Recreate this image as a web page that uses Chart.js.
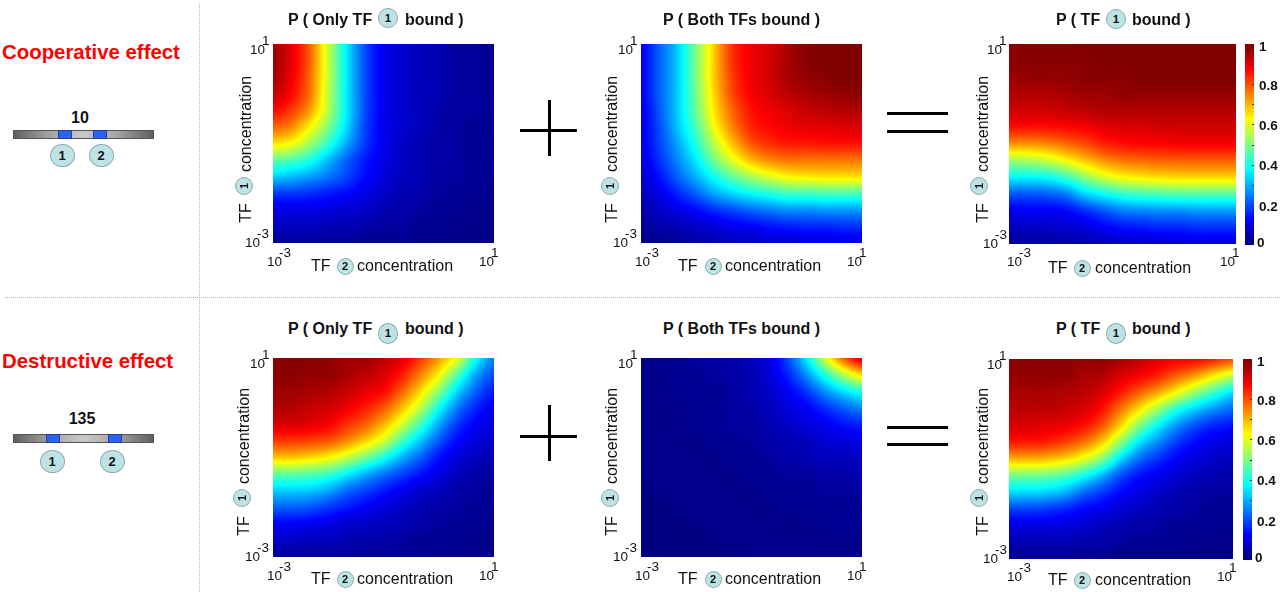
<!DOCTYPE html>
<html>
<head>
<meta charset="utf-8">
<title>TF binding probability</title>
<script src="https://cdn.jsdelivr.net/npm/chart.js@4"></script>
<style>
body { margin: 0; background: #fff; width: 1280px; height: 592px; overflow: hidden; position: relative; font-family: "Liberation Sans", Arial, sans-serif; color: #111; }
canvas { position: absolute; }
.txt { position: absolute; white-space: nowrap; transform: translateY(-50%); }
.rot { position: absolute; white-space: nowrap; transform: translate(-50%, -50%) rotate(-90deg); }
.badge { position: absolute; box-sizing: border-box; border: 1px solid #8fa9ab; border-radius: 50%; background: #bee3e6; font-weight: bold; text-align: center; display: flex; align-items: center; justify-content: center; color: #111; }
.box { position: absolute; }
</style>
</head>
<body>
<script>
// concentration nodes of every map, low to high
var concNodes = [0.001, 0.00215, 0.00464, 0.01, 0.0215, 0.0464, 0.1, 0.215, 0.464, 1, 2.15, 4.64, 10];
var concRows = concNodes.slice().reverse();
var axisEnds = [0.001, 10];
var endLabels = [['10', '-3'], ['10', '1']];

// probabilities, rows run from the highest TF1 concentration down
var coopOnlyTf1 = [
	[.97,.90,.78,.57,.36,.20,.11,.08,.06,.05,.03,.03,.02],
	[.97,.90,.78,.57,.36,.20,.11,.08,.06,.05,.03,.03,.02],
	[.96,.89,.77,.57,.36,.20,.11,.08,.06,.05,.03,.03,.02],
	[.93,.87,.76,.56,.36,.20,.11,.08,.06,.05,.03,.03,.02],
	[.87,.82,.72,.55,.36,.20,.11,.08,.06,.04,.03,.03,.02],
	[.78,.74,.63,.50,.34,.19,.11,.08,.06,.04,.03,.02,.02],
	[.65,.62,.53,.42,.29,.18,.11,.07,.05,.04,.03,.02,.02],
	[.47,.45,.40,.31,.22,.15,.10,.07,.05,.04,.03,.02,.02],
	[.33,.31,.28,.24,.19,.13,.09,.06,.05,.03,.03,.02,.02],
	[.18,.18,.17,.15,.13,.10,.07,.05,.04,.03,.02,.02,.01],
	[.10,.10,.10,.09,.08,.07,.05,.04,.03,.02,.02,.01,.01],
	[.06,.06,.06,.05,.05,.04,.03,.03,.02,.02,.01,.01,.01],
	[.03,.03,.03,.03,.03,.02,.02,.02,.01,.01,.01,.01,.00]
];
var coopBoth = [
	[.12,.22,.33,.50,.68,.83,.89,.92,.96,.99,1,1,1],
	[.12,.22,.33,.50,.68,.83,.89,.92,.96,.99,1,1,1],
	[.12,.22,.33,.50,.68,.82,.89,.92,.96,.98,.99,1,1],
	[.12,.22,.33,.49,.67,.81,.88,.91,.94,.96,.97,.98,.99],
	[.11,.21,.33,.48,.65,.78,.86,.89,.91,.93,.94,.95,.95],
	[.11,.20,.32,.45,.62,.75,.84,.87,.89,.90,.90,.91,.91],
	[.11,.19,.29,.41,.56,.69,.79,.83,.85,.85,.86,.86,.86],
	[.10,.17,.26,.36,.49,.60,.69,.74,.76,.76,.76,.76,.76],
	[.08,.14,.22,.30,.39,.47,.54,.59,.63,.64,.65,.65,.65],
	[.06,.10,.16,.22,.29,.34,.38,.41,.44,.44,.45,.45,.45],
	[.04,.07,.10,.13,.17,.20,.23,.25,.27,.27,.28,.28,.28],
	[.02,.04,.05,.07,.09,.11,.12,.14,.15,.16,.16,.17,.17],
	[.01,.02,.03,.04,.05,.06,.07,.08,.08,.09,.09,.10,.10]
];
var coopTf1 = [
	[.99,.99,.99,.99,1,1,1,1,1,1,1,1,1],
	[.99,.99,.99,.99,.99,1,1,1,1,1,1,1,1],
	[.97,.98,.98,.98,.99,.99,.99,1,1,1,1,1,1],
	[.95,.95,.95,.96,.97,.97,.98,.98,.98,.98,.98,.98,.98],
	[.92,.92,.92,.93,.94,.95,.95,.95,.95,.95,.95,.95,.95],
	[.86,.86,.86,.87,.88,.90,.91,.91,.92,.92,.92,.92,.92],
	[.73,.73,.74,.77,.80,.84,.86,.87,.87,.88,.88,.88,.88],
	[.53,.54,.57,.62,.68,.73,.76,.77,.78,.78,.78,.78,.78],
	[.37,.37,.38,.43,.51,.58,.62,.64,.65,.66,.66,.66,.66],
	[.21,.21,.22,.25,.33,.38,.42,.44,.45,.46,.46,.46,.46],
	[.11,.12,.12,.13,.17,.21,.25,.26,.27,.27,.28,.28,.28],
	[.06,.07,.07,.08,.09,.12,.14,.15,.16,.16,.17,.17,.17],
	[.02,.03,.03,.04,.05,.06,.07,.08,.08,.09,.10,.10,.10]
];
var destOnlyTf1 = [
	[.99,.99,.99,.98,.97,.97,.94,.90,.82,.72,.60,.39,.25],
	[.99,.99,.98,.98,.96,.94,.91,.85,.75,.63,.46,.29,.20],
	[.97,.97,.96,.95,.93,.90,.87,.78,.66,.51,.34,.22,.15],
	[.95,.95,.93,.92,.89,.85,.79,.69,.56,.39,.25,.16,.11],
	[.91,.91,.90,.88,.83,.78,.70,.58,.44,.29,.18,.12,.09],
	[.82,.82,.81,.79,.74,.67,.58,.44,.32,.21,.13,.09,.07],
	[.68,.68,.66,.63,.57,.49,.40,.30,.22,.14,.09,.06,.05],
	[.47,.47,.46,.43,.37,.30,.24,.19,.14,.10,.06,.04,.03],
	[.33,.33,.32,.29,.23,.19,.15,.11,.08,.06,.04,.03,.02],
	[.22,.22,.21,.18,.15,.12,.09,.07,.05,.04,.03,.02,.02],
	[.12,.12,.11,.10,.08,.07,.06,.05,.04,.03,.02,.02,.01],
	[.07,.07,.06,.06,.05,.04,.04,.03,.02,.02,.02,.01,.01],
	[.03,.03,.03,.03,.03,.02,.02,.02,.02,.01,.01,.01,.01]
];
var destBoth = [
	[.01,.02,.02,.03,.03,.04,.06,.10,.20,.36,.58,.78,.91],
	[.01,.01,.02,.02,.03,.04,.05,.09,.16,.27,.41,.55,.66],
	[.01,.01,.02,.02,.02,.03,.05,.07,.12,.18,.27,.35,.41],
	[.01,.01,.01,.02,.02,.03,.04,.06,.09,.12,.17,.22,.26],
	[.01,.01,.01,.02,.02,.03,.03,.05,.07,.09,.11,.14,.16],
	[.01,.01,.01,.01,.02,.02,.03,.04,.05,.06,.08,.09,.10],
	[.01,.01,.01,.01,.01,.02,.02,.03,.04,.05,.06,.06,.07],
	[.01,.01,.01,.01,.01,.01,.02,.02,.03,.03,.04,.04,.05],
	[.00,.01,.01,.01,.01,.01,.01,.02,.02,.02,.03,.03,.03],
	[.00,.00,.01,.01,.01,.01,.01,.01,.02,.02,.02,.02,.02],
	[.00,.00,.00,.01,.01,.01,.01,.01,.01,.01,.02,.02,.02],
	[.00,.00,.00,.00,.01,.01,.01,.01,.01,.01,.01,.01,.01],
	[.00,.00,.00,.00,.00,.00,.01,.01,.01,.01,.01,.01,.01]
];
var destTf1 = [
	[.99,.99,.99,.99,.98,.98,.96,.93,.90,.88,.87,.84,.80],
	[.98,.98,.98,.98,.96,.95,.91,.88,.84,.78,.72,.64,.57],
	[.96,.96,.96,.95,.94,.91,.85,.78,.71,.62,.52,.43,.35],
	[.94,.94,.94,.93,.91,.86,.76,.65,.53,.41,.33,.27,.23],
	[.91,.91,.90,.89,.86,.79,.66,.50,.37,.27,.20,.16,.14],
	[.85,.85,.84,.81,.76,.67,.51,.35,.26,.18,.13,.10,.09],
	[.70,.70,.69,.66,.60,.50,.34,.23,.17,.12,.09,.07,.06],
	[.49,.49,.48,.45,.39,.30,.20,.14,.11,.08,.06,.05,.04],
	[.34,.34,.33,.30,.23,.18,.13,.10,.07,.05,.04,.03,.03],
	[.19,.19,.18,.16,.13,.11,.08,.06,.05,.04,.03,.02,.02],
	[.10,.10,.10,.09,.08,.06,.05,.04,.03,.02,.02,.02,.01],
	[.05,.05,.05,.05,.04,.04,.03,.02,.02,.02,.01,.01,.01],
	[.02,.02,.02,.02,.02,.02,.01,.01,.01,.01,.01,.01,.01]
];

// colour bar
var barLevels = [1, .875, .75, .625, .5, .375, .25, .125, 0];
var barSides = [0, 1];
var barLabels = [1, .8, .6, .4, .2, 0];
var barMarks = [.1, .2, .3, .4, .5, .6, .7, .8, .9];

function clamp01(v) { return Math.max(0, Math.min(1, v)); }

// jet colormap
function jet(v) {
	var f = clamp01(v);
	return [
		255 * clamp01(1.5 - Math.abs(4 * f - 3)),
		255 * clamp01(1.5 - Math.abs(4 * f - 2)),
		255 * clamp01(1.5 - Math.abs(4 * f - 1))
	];
}

// where a pixel falls between node pixels, with cubic weights
function spans(nodePx, from, count) {
	var out = [], last = nodePx.length - 1;
	for (var p = 0; p < count; p++) {
		var px = from + p + .5, i = 0;
		while (i < last - 1 && px > nodePx[i + 1]) i++;
		var t = clamp01((px - nodePx[i]) / (nodePx[i + 1] - nodePx[i]));
		out.push({
			idx: [Math.max(0, i - 1), i, i + 1, Math.min(last, i + 2)],
			w: [
				-.5 * t + t * t - .5 * t * t * t,
				1 - 2.5 * t * t + 1.5 * t * t * t,
				.5 * t + 2 * t * t - 1.5 * t * t * t,
				-.5 * t * t + .5 * t * t * t
			]
		});
	}
	return out;
}

// interpolated shading of the dataset's value rows, placed by the chart's scales
var shadePlugin = {
	id: 'shade',
	beforeDatasetsDraw: function(chart) {
		var set = chart.data.datasets[0], area = chart.chartArea;
		var xPx = set.xNodes.map(function(v) { return chart.scales.x.getPixelForValue(v); });
		var yPx = set.yNodes.map(function(v) { return chart.scales.y.getPixelForValue(v); });
		var w = Math.round(area.right - area.left), h = Math.round(area.bottom - area.top);
		var xs = spans(xPx, area.left, w), ys = spans(yPx, area.top, h);
		var off = document.createElement('canvas');
		off.width = w;
		off.height = h;
		var octx = off.getContext('2d'), img = octx.createImageData(w, h);
		for (var r = 0; r < h; r++) {
			for (var c = 0; c < w; c++) {
				var v = 0;
				for (var a = 0; a < 4; a++) {
					for (var b = 0; b < 4; b++) {
						v += ys[r].w[a] * xs[c].w[b] * set.rows[ys[r].idx[a]][xs[c].idx[b]];
					}
				}
				var col = jet(v), k = (r * w + c) * 4;
				img.data[k] = col[0];
				img.data[k + 1] = col[1];
				img.data[k + 2] = col[2];
				img.data[k + 3] = 255;
			}
		}
		octx.putImageData(img, 0, 0);
		chart.ctx.drawImage(off, area.left, area.top);
	}
};

// the two end labels of each axis, exponent set up and to the right
var endLabelPlugin = {
	id: 'endLabels',
	afterDraw: function(chart) {
		var o = chart.options.plugins.endLabels;
		if (!o || !o.nudge) return;
		var ctx = chart.ctx, sx = chart.scales.x, sy = chart.scales.y;
		ctx.save();
		ctx.font = '13.5px "Liberation Sans"';
		ctx.fillStyle = '#111';
		ctx.textBaseline = 'middle';
		function put(label, x, y, dx) {
			ctx.fillText(label[0], x, y);
			ctx.fillText(label[1], x + dx, y - 9);
		}
		axisEnds.forEach(function(v, i) {
			var n = o.nudge;
			put(endLabels[i], sx.getPixelForValue(v) + n.x[i], chart.chartArea.bottom + n.xDown, 12);
			put(endLabels[i], chart.chartArea.left + n.y[i], sy.getPixelForValue(v) + (i ? 6 : 0), 12);
		});
		ctx.restore();
	}
};

// colour bar tick marks and bold labels
var barPlugin = {
	id: 'barTicks',
	afterDraw: function(chart) {
		if (!chart.options.plugins.barTicks) return;
		var ctx = chart.ctx, sy = chart.scales.y, area = chart.chartArea;
		ctx.save();
		ctx.strokeStyle = '#333';
		ctx.beginPath();
		barMarks.forEach(function(v) {
			var y = Math.round(sy.getPixelForValue(v)) + .5;
			ctx.moveTo(area.right - 2, y);
			ctx.lineTo(area.right, y);
		});
		ctx.stroke();
		ctx.font = 'bold 13.5px "Liberation Sans"';
		ctx.fillStyle = '#111';
		ctx.textBaseline = 'middle';
		barLabels.forEach(function(v) {
			var y = sy.getPixelForValue(v) + (v === 1 ? 3 : v === 0 ? -2 : 2);
			ctx.fillText(String(v), area.right + (v === 0 ? 3 : 5), y);
		});
		ctx.restore();
	}
};

function heatData(xNodes, yNodes, rows) {
	var points = [];
	rows.forEach(function(row, r) {
		row.forEach(function(v, c) {
			points.push({ x: xNodes[c], y: yNodes[r], v: v });
		});
	});
	return { datasets: [{ data: points, xNodes: xNodes, yNodes: yNodes, rows: rows, pointRadius: 0, showLine: false }] };
}

function hiddenAxis(type, min, max, horizontal) {
	return {
		type: type, min: min, max: max,
		grid: { display: false, drawTicks: false }, border: { display: false },
		ticks: { display: false },
		afterBuildTicks: function(scale) { scale.ticks = [{ value: min }, { value: max }]; },
		// labels are drawn by the plugins, the axis itself takes no room
		afterFit: function(scale) {
			if (horizontal) scale.height = 0; else scale.width = 0;
		}
	};
}

function place(rect, left, top, right, bottom) {
	var cv = document.createElement('canvas');
	cv.width = rect.w + left + right;
	cv.height = rect.h + top + bottom;
	cv.style.left = (rect.x - left) + 'px';
	cv.style.top = (rect.y - top) + 'px';
	document.body.appendChild(cv);
	return cv;
}

function heatMap(rect, rows, nudge) {
	var cv = place(rect, 50, 20, 4, 30);
	new Chart(cv.getContext('2d'), {
		type: 'scatter',
		data: heatData(concNodes, concRows, rows),
		plugins: [shadePlugin, endLabelPlugin],
		options: {
			responsive: false, animation: false, events: [],
			layout: { padding: { left: 50, top: 20, right: 4, bottom: 30 } },
			plugins: { legend: { display: false }, tooltip: { enabled: false }, endLabels: { nudge: nudge } },
			scales: {
				x: hiddenAxis('logarithmic', axisEnds[0], axisEnds[1], true),
				y: hiddenAxis('logarithmic', axisEnds[0], axisEnds[1], false)
			}
		}
	});
}

function colorBar(rect) {
	var cv = place(rect, 2, 6, 28, 6);
	new Chart(cv.getContext('2d'), {
		type: 'scatter',
		data: heatData(barSides, barLevels, barLevels.map(function(v) { return [v, v]; })),
		plugins: [shadePlugin, barPlugin],
		options: {
			responsive: false, animation: false, events: [],
			layout: { padding: { left: 2, top: 6, right: 28, bottom: 6 } },
			plugins: { legend: { display: false }, tooltip: { enabled: false }, barTicks: true },
			scales: { x: hiddenAxis('linear', 0, 1, true), y: hiddenAxis('linear', 0, 1, false) }
		}
	});
}

// text and drawn bits around the charts
function text(x, y, str, css) {
	var d = document.createElement('div');
	d.className = 'txt';
	d.textContent = str;
	d.style.cssText = 'left:' + x + 'px;top:' + y + 'px;' + (css || '');
	document.body.appendChild(d);
}
function upText(x, y, str, css) {
	var d = document.createElement('div');
	d.className = 'rot';
	d.textContent = str;
	d.style.cssText = 'left:' + x + 'px;top:' + y + 'px;' + (css || '');
	document.body.appendChild(d);
}
function badge(cx, cy, rx, ry, n, size, turned) {
	var d = document.createElement('div');
	d.className = 'badge';
	d.style.cssText = 'left:' + (cx - rx) + 'px;top:' + (cy - ry) + 'px;width:' + (2 * rx) + 'px;height:' + (2 * ry) + 'px;font-size:' + size + 'px;';
	var s = document.createElement('span');
	s.textContent = n;
	if (turned) { s.style.transform = 'rotate(-90deg)'; s.style.display = 'block'; }
	d.appendChild(s);
	document.body.appendChild(d);
}
function box(x, y, w, h, css) {
	var d = document.createElement('div');
	d.className = 'box';
	d.style.cssText = 'left:' + x + 'px;top:' + y + 'px;width:' + w + 'px;height:' + h + 'px;' + css;
	document.body.appendChild(d);
}

var TITLE = 'font-weight:bold;font-size:16px;';
var AXIS = 'font-size:16px;';
var NEAR = { x: [-6, -15], xDown: 19, y: [-28, -23] };
var FAR = { x: [-2, -16], xDown: 18, y: [-26, -22] };

heatMap({ x: 273, y: 44, w: 221, h: 199 }, coopOnlyTf1, NEAR);
heatMap({ x: 641, y: 44, w: 221, h: 199 }, coopBoth, NEAR);
heatMap({ x: 1009, y: 44, w: 227, h: 200 }, coopTf1, FAR);
heatMap({ x: 273, y: 358, w: 221, h: 199 }, destOnlyTf1, NEAR);
heatMap({ x: 641, y: 358, w: 221, h: 199 }, destBoth, NEAR);
heatMap({ x: 1009, y: 359, w: 224, h: 200 }, destTf1, FAR);
colorBar({ x: 1245, y: 44, w: 9, h: 201 });
colorBar({ x: 1243, y: 359, w: 9, h: 201 });

// dividers
box(199, 3, 0, 589, 'border-left:1px dotted #b5b5b5;');
box(5, 297, 1275, 0, 'border-top:1px dotted #b5b5b5;');

// left column: effect names and site diagrams
function sites(top, a, b, cxa, cxb, label, labelX, labelY, cy) {
	box(13, top, 141, 9, 'background:linear-gradient(to right,#5e5e5e,#a8a8a8 28%,#c8c8c8 50%,#a8a8a8 72%,#5e5e5e);box-shadow:inset 0 0 0 1px #555;');
	box(a, top, 14, 9, 'background:#2f62f0;box-shadow:inset 0 0 0 1px #23408f;');
	box(b, top, 14, 9, 'background:#2f62f0;box-shadow:inset 0 0 0 1px #23408f;');
	text(labelX, labelY, label, 'font-weight:bold;font-size:16px;transform:translate(-50%,-50%);');
	badge(cxa, cy, 12.5, 11.5, '1', 13);
	badge(cxb, cy, 12.5, 11.5, '2', 13);
}
text(2, 52, 'Cooperative effect', 'color:#f00;font-weight:bold;font-size:20.4px;');
sites(130, 58, 93, 62, 101, '10', 80, 118, 155);
text(2, 361, 'Destructive effect', 'color:#f00;font-weight:bold;font-size:20.4px;');
sites(434, 46, 108, 52, 112, '135', 82, 419, 461);

// titles
text(288, 20, 'P ( Only TF', TITLE); badge(388, 18, 10, 10, '1', 11.5); text(405, 20, 'bound )', TITLE);
text(663, 20, 'P ( Both TFs bound )', TITLE);
text(1056, 20, 'P ( TF', TITLE); badge(1116, 19, 10, 10, '1', 11.5); text(1132, 20, 'bound )', TITLE);
text(288, 329, 'P ( Only TF', TITLE); badge(388, 333, 10, 10.5, '1', 11.5); text(405, 329, 'bound )', TITLE);
text(663, 329, 'P ( Both TFs bound )', TITLE);
text(1056, 329, 'P ( TF', TITLE); badge(1116, 333, 10, 10.5, '1', 11.5); text(1132, 329, 'bound )', TITLE);

// x axis captions
function xCaption(tfX, cx, concX, y) {
	text(tfX, y, 'TF', AXIS);
	badge(cx, y, 8.5, 8.5, '2', 11);
	text(concX, y, 'concentration', AXIS);
}
xCaption(311, 345, 357, 266);
xCaption(678, 713, 725, 266);
xCaption(1048, 1082, 1095, 268);
xCaption(311, 345, 357, 579);
xCaption(678, 713, 725, 579);
xCaption(1048, 1082, 1095, 580);

// y axis captions
function yCaption(x, cx, concY, cy, tfY) {
	upText(x, concY, 'concentration', AXIS);
	badge(cx, cy, 9, 9, '1', 11, true);
	upText(x, tfY, 'TF', AXIS);
}
yCaption(246, 244, 124, 186, 213);
yCaption(612, 610, 124, 186, 213);
yCaption(983, 979, 124, 186, 213);
yCaption(244, 242, 436, 498, 526);
yCaption(612, 610, 436, 498, 526);
yCaption(983, 979, 436, 498, 526);

// plus and equals signs
box(520, 129, 57, 3, 'background:#000;');
box(548, 100, 3, 56, 'background:#000;');
box(520, 435, 57, 3, 'background:#000;');
box(548, 405, 3, 56, 'background:#000;');
box(887, 112, 61, 3, 'background:#000;');
box(887, 130, 61, 3, 'background:#000;');
box(887, 426, 61, 3, 'background:#000;');
box(887, 443, 61, 3, 'background:#000;');
</script>
</body>
</html>
